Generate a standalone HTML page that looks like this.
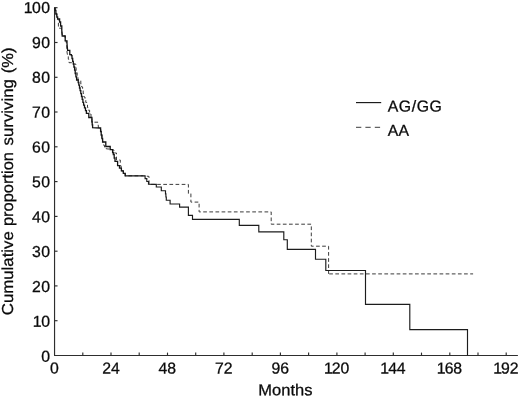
<!DOCTYPE html>
<html><head><meta charset="utf-8"><title>Survival</title>
<style>html,body{margin:0;padding:0;background:#fff}svg{display:block}text{font-family:"Liberation Sans",Arial,Helvetica,sans-serif;fill:#0a0a0a;stroke:#0a0a0a;stroke-width:0.28px}</style></head><body>
<svg width="520" height="397" viewBox="0 0 520 397">
<rect width="520" height="397" fill="#fff"/>
<g stroke="#2e2e2e" stroke-width="1.15" fill="none">
<path d="M54.55,7.3 V355.5 H517.9"/>
<path d="M54.55,320.7 h3"/>
<path d="M54.55,285.9 h3"/>
<path d="M54.55,251.2 h3"/>
<path d="M54.55,216.4 h3"/>
<path d="M54.55,181.6 h3"/>
<path d="M54.55,146.8 h3"/>
<path d="M54.55,112.0 h3"/>
<path d="M54.55,77.3 h3"/>
<path d="M54.55,42.5 h3"/>
<path d="M54.55,7.7 h3"/>
<path d="M82.8,355.5 v-2.9"/>
<path d="M111.0,355.5 v-2.9"/>
<path d="M139.2,355.5 v-2.9"/>
<path d="M167.5,355.5 v-2.9"/>
<path d="M195.7,355.5 v-2.9"/>
<path d="M223.9,355.5 v-2.9"/>
<path d="M252.2,355.5 v-2.9"/>
<path d="M280.4,355.5 v-2.9"/>
<path d="M308.6,355.5 v-2.9"/>
<path d="M336.9,355.5 v-2.9"/>
<path d="M365.1,355.5 v-2.9"/>
<path d="M393.3,355.5 v-2.9"/>
<path d="M421.5,355.5 v-2.9"/>
<path d="M449.8,355.5 v-2.9"/>
<path d="M478.0,355.5 v-2.9"/>
<path d="M506.2,355.5 v-2.9"/>
</g>
<polyline points="54.8,7.7 55.3,7.7 55.3,10.8 55.9,10.8 55.9,14.0 56.8,14.0 56.8,17.0 57.6,17.0 57.6,19.0 58.4,19.5 58.4,28.2 61.5,28.2 61.5,30.8 61.9,30.8 61.9,33.4 62.2,33.4 62.2,36.0 65.2,36.0 65.2,40.8 66.3,40.8 66.3,43.5 66.5,43.5 66.5,46.3 66.8,46.3 66.8,49.2 67.0,49.2 67.0,52.0 67.6,55.7 68.3,55.7 68.3,59.2 69.0,59.2 69.0,62.7 73.0,62.7 73.0,64.0 75.8,64.0 75.8,67.7 76.1,67.7 76.1,70.2 76.4,70.2 76.4,72.7 77.2,72.7 77.2,76.3 78.0,76.3 78.0,80.0 80.8,80.0 80.8,84.0 81.7,84.0 81.7,87.0 82.6,87.0 82.6,90.0 83.2,90.0 83.2,93.5 83.9,93.5 83.9,97.0 85.0,97.0 85.0,100.0 85.8,100.0 85.8,102.5 86.7,102.5 86.7,105.0 87.5,105.0 87.5,107.6 88.3,107.6 88.3,110.2 89.6,110.2 89.6,114.0 91.0,114.0 91.0,118.0 92.0,118.0 92.0,122.2 98.0,122.2 98.4,127.5 100.0,128.0 100.7,128.0 100.7,131.5 101.3,131.5 101.3,135.0 101.9,135.0 101.9,138.5 102.6,138.5 102.6,142.0 103.5,142.0 103.5,145.2 104.5,145.2 104.5,148.4 108.0,149.0 112.0,149.0 112.0,150.0 114.0,150.0 114.0,153.0 116.5,153.0 116.5,156.6 116.5,160.0 120.3,160.0 120.3,163.0 120.7,166.0 121.1,166.0 121.1,168.4 121.4,168.4 121.4,170.8 123.3,170.8 123.3,173.3 125.2,173.3 125.2,175.8 143.4,175.8 149.0,176.4 149.0,184.4 188.4,184.4 188.4,193.6 190.9,193.6 190.9,202.1 199.1,202.1 199.1,211.9 271.2,211.9 271.2,224.2 311.3,224.2 311.3,246.2 328.6,246.2 328.6,273.9" fill="none" stroke="#3c3c3c" stroke-width="1" stroke-dasharray="3.7 2.43" stroke-linejoin="miter"/>
<path d="M329.2,273.9 H473.1" fill="none" stroke="#3c3c3c" stroke-width="1" stroke-dasharray="3.7 2.43"/>
<polyline points="54.8,7.7 55.2,10.5 55.9,10.5 55.9,14.0 56.8,14.0 56.8,17.0 57.6,17.0 57.6,19.0 59.6,19.0 59.6,22.0 60.6,22.0 60.6,26.0 61.8,26.0 61.8,30.5 62.2,36.0 65.2,36.0 65.2,40.8 67.0,40.8 67.0,43.5 67.6,50.4 69.8,50.4 69.8,54.6 71.4,54.6 71.4,55.7 72.0,55.7 72.0,58.5 72.7,58.5 72.7,61.4 73.3,61.4 73.3,64.2 73.9,64.2 73.9,67.0 74.6,67.0 74.6,70.2 75.2,70.2 75.2,73.5 75.9,73.5 75.9,76.8 76.6,76.8 76.6,80.0 78.2,80.0 78.2,82.5 78.8,82.5 78.8,85.2 79.5,85.2 79.5,88.0 80.1,88.0 80.1,90.7 80.8,90.7 80.8,93.6 81.5,93.6 81.5,96.5 82.2,96.5 82.2,99.4 82.9,99.4 82.9,102.3 83.6,102.3 83.6,105.2 84.5,105.2 84.5,107.9 85.5,107.9 85.5,110.7 86.4,110.7 86.4,113.4 88.8,113.4 88.8,117.5 91.9,117.5 91.9,122.0 92.2,122.0 92.2,124.8 92.6,124.8 92.6,127.6 99.9,128.0 100.6,128.0 100.6,131.5 101.2,131.5 101.2,135.0 101.9,135.0 101.9,138.5 102.6,138.5 102.6,142.0 105.8,142.0 105.8,146.5 110.2,146.5 110.2,149.6 112.6,149.6 112.6,152.5 113.3,152.5 113.3,154.7 114.2,154.7 114.2,158.0 115.0,158.0 115.0,161.3 117.6,161.3 117.6,165.7 119.5,165.7 119.5,168.2 121.4,168.2 121.4,170.8 123.3,170.8 123.3,173.3 125.2,173.3 125.2,175.8 143.4,175.8" fill="none" stroke="#141414" stroke-width="1.3" stroke-linejoin="miter"/>
<polyline points="143.4,175.8 145.1,175.8 145.1,178.6 146.8,178.6 146.8,181.5 148.5,181.5 148.5,184.3 155.0,184.4 156.3,184.4 156.3,187.0 161.3,187.0 161.3,190.7 165.1,190.7 165.5,190.7 165.5,193.9 165.9,193.9 165.9,197.0 166.3,197.0 166.3,200.2 170.1,200.2 170.1,204.0 179.6,204.0 179.6,207.1 188.4,207.1 188.4,215.3 192.5,215.3 192.5,219.4 239.3,219.4 239.3,225.4 258.8,225.4 258.8,231.8 283.8,231.8 283.8,239.7 287.3,239.7 287.3,249.3 315.5,249.3 315.5,259.2 325.8,259.2 325.8,270.5 365.5,270.5 365.5,304.3 409.8,304.3 409.8,329.6 467.5,329.6 467.5,355.5" fill="none" stroke="#1c1c1c" stroke-width="1.15" stroke-linejoin="miter"/>
<path d="M356,102.6 H381.2" stroke="#1c1c1c" stroke-width="1.15"/>
<path d="M356,127.3 H380.3" stroke="#3c3c3c" stroke-width="1" stroke-dasharray="5.3 4.1"/>
<text transform="translate(387.70,111.40) rotate(0.03) scale(1,1)" font-size="15.8" text-anchor="start" letter-spacing="0.6">AG/GG</text>
<text transform="translate(387.70,135.70) rotate(0.03) scale(1,1)" font-size="15.8" text-anchor="start" letter-spacing="0.3">AA</text>
<text transform="translate(50.40,361.65) rotate(0.03) scale(1,1)" font-size="15.8" text-anchor="end" letter-spacing="0.35">0</text>
<text transform="translate(50.40,326.79) rotate(0.03) scale(1,1)" font-size="15.8" text-anchor="end" letter-spacing="0.35" dx="0 -0.7">10</text>
<text transform="translate(50.40,291.93) rotate(0.03) scale(1,1)" font-size="15.8" text-anchor="end" letter-spacing="0.35">20</text>
<text transform="translate(50.40,257.07) rotate(0.03) scale(1,1)" font-size="15.8" text-anchor="end" letter-spacing="0.35">30</text>
<text transform="translate(50.40,222.21) rotate(0.03) scale(1,1)" font-size="15.8" text-anchor="end" letter-spacing="0.35">40</text>
<text transform="translate(50.40,187.35) rotate(0.03) scale(1,1)" font-size="15.8" text-anchor="end" letter-spacing="0.35">50</text>
<text transform="translate(50.40,152.49) rotate(0.03) scale(1,1)" font-size="15.8" text-anchor="end" letter-spacing="0.35">60</text>
<text transform="translate(50.40,117.63) rotate(0.03) scale(1,1)" font-size="15.8" text-anchor="end" letter-spacing="0.35">70</text>
<text transform="translate(50.40,82.77) rotate(0.03) scale(1,1)" font-size="15.8" text-anchor="end" letter-spacing="0.35">80</text>
<text transform="translate(50.40,47.91) rotate(0.03) scale(1,1)" font-size="15.8" text-anchor="end" letter-spacing="0.35">90</text>
<text transform="translate(50.40,13.05) rotate(0.03) scale(1,1)" font-size="15.8" text-anchor="end" letter-spacing="0.35" dx="0 -0.7">100</text>
<text transform="translate(54.45,373.40) rotate(0.03) scale(1,1)" font-size="15.8" text-anchor="middle">0</text>
<text transform="translate(110.91,373.40) rotate(0.03) scale(1,1)" font-size="15.8" text-anchor="middle">24</text>
<text transform="translate(167.37,373.40) rotate(0.03) scale(1,1)" font-size="15.8" text-anchor="middle">48</text>
<text transform="translate(223.83,373.40) rotate(0.03) scale(1,1)" font-size="15.8" text-anchor="middle">72</text>
<text transform="translate(280.29,373.40) rotate(0.03) scale(1,1)" font-size="15.8" text-anchor="middle">96</text>
<text transform="translate(336.55,373.40) rotate(0.03) scale(1,1)" font-size="15.8" text-anchor="middle" dx="0 -1.0 -0.1">120</text>
<text transform="translate(393.01,373.40) rotate(0.03) scale(1,1)" font-size="15.8" text-anchor="middle" dx="0 -1.0 -0.1">144</text>
<text transform="translate(449.47,373.40) rotate(0.03) scale(1,1)" font-size="15.8" text-anchor="middle" dx="0 -1.0 -0.1">168</text>
<text transform="translate(505.93,373.40) rotate(0.03) scale(1,1)" font-size="15.8" text-anchor="middle" dx="0 -1.0 -0.1">192</text>
<text transform="translate(258.30,395.15) rotate(0.03) scale(1.045,1)" font-size="15.8" text-anchor="start">Months</text>
<text transform="translate(12.95,315.2) rotate(-89.97)" font-size="15.9" textLength="84.0" lengthAdjust="spacingAndGlyphs">Cumulative</text>
<text transform="translate(12.95,226.1) rotate(-89.97)" font-size="15.9" textLength="74.1" lengthAdjust="spacingAndGlyphs">proportion</text>
<text transform="translate(12.95,145.4) rotate(-89.97)" font-size="15.9" textLength="66.2" lengthAdjust="spacingAndGlyphs">surviving</text>
<text transform="translate(12.95,73.2) rotate(-89.97)" font-size="15.9" textLength="25.7" lengthAdjust="spacingAndGlyphs">(%)</text>
</svg></body></html>
